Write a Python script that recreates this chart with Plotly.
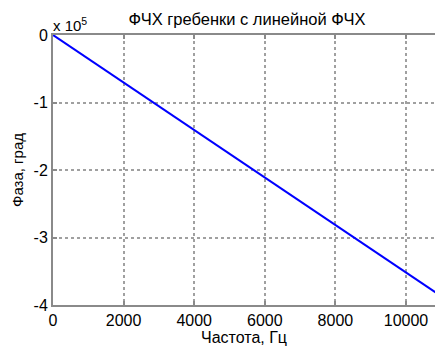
import plotly.graph_objects as go

freq_hz = [0, 11025]
phase_deg = [0, -388000]
x_ticks = [0, 2000, 4000, 6000, 8000, 10000]
x_tick_text = ["0", "2000", "4000", "6000", "8000", "10000"]
y_tick_vals = [0, -100000, -200000, -300000, -400000]
y_tick_text = ["0", "-1", "-2", "-3", "-4"]

FONT = "Liberation Sans, Arial, sans-serif"
AX = "#8a8a8a"
TXT = "#000"

fig = go.Figure()
fig.add_trace(go.Scatter(x=freq_hz, y=phase_deg, mode="lines",
                         line=dict(color="#0000ff", width=2), showlegend=False))

fig.update_layout(
    width=435, height=346,
    margin=dict(l=53, r=0, t=35, b=41, autoexpand=False),
    paper_bgcolor="white", plot_bgcolor="white",
    title=dict(text="ФЧХ гребенки с линейной ФЧХ", x=247 / 435, xanchor="center",
               y=1 - 19 / 346, yanchor="middle", font=dict(family=FONT, size=16.5, color=TXT)),
    xaxis=dict(range=[0, 10822], tickvals=x_ticks, ticktext=x_tick_text,
               ticks="inside", ticklen=4, tickcolor=AX, tickwidth=1.5,
               showline=True, linecolor=AX, linewidth=2, mirror="ticks",
               showgrid=True, gridcolor="#a0a0a0", griddash="dot", gridwidth=1.5,
               zeroline=False, automargin=False,
               tickfont=dict(family=FONT, size=16, color=TXT),
               title=dict(text="Частота, Гц", font=dict(family=FONT, size=16, color=TXT),
                          standoff=0)),
    yaxis=dict(range=[-400000, 0], tickvals=y_tick_vals, ticktext=y_tick_text,
               ticks="inside", ticklen=4, tickcolor=AX, tickwidth=1.5,
               showline=True, linecolor=AX, linewidth=2, automargin=False,
               showgrid=True, gridcolor="#a0a0a0", griddash="dot", gridwidth=1.5,
               zeroline=False, tickfont=dict(family=FONT, size=16, color=TXT),
               title=dict(text="Фаза, град", font=dict(family=FONT, size=15, color=TXT),
                          standoff=6)),
)
fig.add_annotation(text="x 10<sup>5</sup>", xref="paper", yref="paper", x=0.0, y=1.0,
                   xanchor="left", yanchor="bottom", showarrow=False, xshift=-2, yshift=-1,
                   font=dict(family=FONT, size=15, color=TXT))
fig.write_html("out.html", config={"displayModeBar": False},
               post_script="document.body.style.margin='0px';document.body.style.overflow='hidden';")
